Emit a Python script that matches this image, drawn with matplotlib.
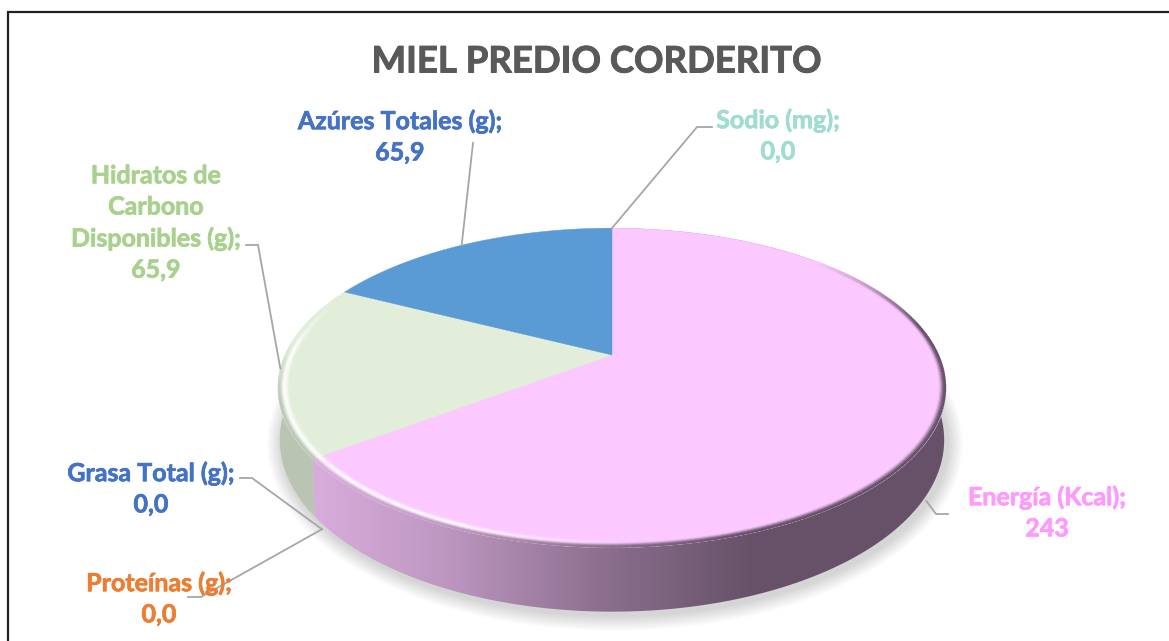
import matplotlib
matplotlib.use('Agg')
import matplotlib.pyplot as plt
import matplotlib.patheffects as pe
import numpy as np
from matplotlib.collections import LineCollection
from matplotlib.patches import Polygon, Ellipse
from matplotlib.colors import to_rgb

# datos de la etiqueta (sentido horario desde las 12)
categorias = ["Energía (Kcal)", "Proteínas (g)", "Grasa Total (g)",
              "Hidratos de\nCarbono\nDisponibles (g)", "Azúres Totales (g)", "Sodio (mg)"]
valores = [243, 0.0, 0.0, 65.9, 65.9, 0.0]
textos_valor = ["243", "0,0", "0,0", "65,9", "65,9", "0,0"]

col_sector = ["#fbc8ff", "#ed7d31", "#4472c4", "#e2eed9", "#5b9bd5", "#a5dbd3"]
col_texto = ["#ff99ff", "#ed7d31", "#4472c4", "#a9d18e", "#4472c4", "#a0dcd0"]

# posicion de cada etiqueta y codo de la linea guia (en pixeles)
pos_texto = [(1047, 513), (159, 599), (151, 489), (156, 223), (400, 137), (778, 136)]
codos = [[(936, 514), (948, 514)], [(201, 597), (188, 597)], [(252, 478), (240, 478)],
         [(258, 245), (246, 245)], [(473, 143)], [(697, 127), (712, 127)]]
nivel_guia = [1.1, 1.1, 1.1, 0, 0, 0]
ajuste_guia = [3, -2.4, -2.4, 0, -1, 0]

plt.rcParams['font.family'] = ['Lato', 'DejaVu Sans']

fig = plt.figure(figsize=(11.69, 6.41), dpi=100)
ax = fig.add_axes([0, 0, 1, 1])
ax.set_xlim(0, 1169)
ax.set_ylim(641, 0)
ax.axis('off')

# geometria de la torta en perspectiva
CX, APEX_Y = 612, 355
A, B, K = 327, 153, 0.206
TOP_CY, TOP_RX, TOP_RY = 388, 335, 160
BOT_CY, BOT_RX, BOT_RY = 440, 333, 172


def pie_point(theta, nivel=0.0, r=1.0):
    """theta en grados, horario desde arriba. nivel 0 = cara superior, 1 = base."""
    t = np.radians(theta)
    x, y = r * np.sin(t), r * np.cos(t)
    w = 1 + K * y
    px = CX + A * x / w
    py = APEX_Y - B * y / w
    bx = CX + (px - CX) * BOT_RX / TOP_RX
    by = BOT_CY + (py - TOP_CY) * BOT_RY / TOP_RY
    return px + (bx - px) * nivel, py + (by - py) * nivel


def wall_color(x, base):
    # luz desde la izquierda, la pared se oscurece hacia la derecha
    xs = [316, 440, 600, 750, 950]
    f = np.interp(x, xs, [0.86, 0.76, 0.56, 0.41, 0.41])
    return np.array(to_rgb(base)) * f


angulos = np.cumsum([0] + valores) / np.sum(valores) * 360

# sombra difusa bajo la torta
for i in range(14):
    ax.add_patch(Ellipse((CX + 3, BOT_CY + 4), 2 * BOT_RX + 30 - 2.2 * i, 2 * BOT_RY + 30 - 2.2 * i,
                         fc='#000000', ec='none', alpha=0.012, zorder=1))

# paredes laterales con degradado
grad_x = np.linspace(270, 950, 340)
for ini, fin, base in [(angulos[0], angulos[1], col_sector[0]), (angulos[3], angulos[4], '#d8e6cf')]:
    th = np.linspace(ini, fin, 200)
    tx, ty = pie_point(th)
    bx, by = pie_point(th, 1)
    poly = Polygon(np.r_[np.c_[tx, ty], np.c_[bx, by][::-1]], closed=True, fc='none', ec='none',
                   transform=ax.transData)
    ax.add_patch(poly)
    img = np.array([[wall_color(x, base) for x in grad_x]])
    im = ax.imshow(img, extent=(270, 950, 641, 200), aspect='auto', zorder=2, interpolation='bilinear')
    im.set_clip_path(poly)
ax.set_xlim(0, 1169)
ax.set_ylim(641, 0)

# cara superior
for i, v in enumerate(valores):
    if v == 0:
        continue
    th = np.linspace(angulos[i], angulos[i + 1], 240)
    x, y = pie_point(th)
    ax.add_patch(Polygon(np.r_[[[CX, APEX_Y]], np.c_[x, y]], closed=True, fc=col_sector[i],
                         ec=col_sector[i], lw=0.3, zorder=3))

# bisel del borde: brillo a la izquierda, sombra a la derecha
anillos = np.linspace(0.966, 1.0, 12)
for i, v in enumerate(valores):
    if v == 0 or i == 4:
        continue
    base = np.array(to_rgb(col_sector[i]))
    th = np.arange(angulos[i], angulos[i + 1], 1.0)
    segs, cols = [], []
    pared = col_sector[i] if i == 0 else '#d8e6cf'
    for k in range(len(anillos) - 1):
        t_k = k / (len(anillos) - 2)
        s = np.clip((t_k - 0.4) / 0.6, 0, 1)
        s = s * s * (3 - 2 * s)
        bump = np.exp(-((t_k - 0.5) / 0.28) ** 2)
        for a in th:
            cos_a = np.cos(np.radians(a))
            if i == 0:
                peso = np.clip((0.7 - cos_a) / 0.5, 0, 1)
            else:
                peso = np.clip((0.35 - cos_a) / 0.3, 0, 1)
            if peso == 0:
                continue
            x0, y0 = pie_point(a, 0, anillos[k])
            x1, y1 = pie_point(a + 1.0, 0, anillos[k])
            frente = np.clip((0.1 - cos_a) / 0.4, 0, 1) if i != 0 else 1.0
            brillo = np.clip((640 - x0) / 180, 0, 1)
            c = base + (wall_color(x0, pared) - base) * s * frente * peso
            c = c + (np.ones(3) - c) * brillo * bump * peso * 0.9
            segs.append([(x0, y0), (x1, y1)])
            cols.append(np.clip(c, 0, 1))
    ax.add_collection(LineCollection(segs, colors=cols, linewidths=1.3, zorder=4, capstyle='round'))

# lineas guia y etiquetas
for i, cat in enumerate(categorias):
    medio = (angulos[i] + angulos[i + 1]) / 2 + ajuste_guia[i]
    if i == 5:
        medio = 0
    px, py = pie_point(medio, nivel_guia[i])
    pts = [(px, py)] + codos[i]
    ax.plot([p[0] for p in pts], [p[1] for p in pts], color='#a6a6a6', lw=1.3, zorder=5,
            solid_joinstyle='miter')
    ax.text(pos_texto[i][0], pos_texto[i][1], f"{cat};\n{textos_valor[i]}", color=col_texto[i],
            fontsize=18, fontweight='bold', ha='center', va='center', linespacing=1.43, zorder=6,
            path_effects=[pe.withStroke(linewidth=0.5, foreground=col_texto[i])])

ax.text(596, 62, "MIEL PREDIO CORDERITO", color='#595959', fontsize=26.3, fontweight='bold',
        ha='center', va='center', path_effects=[pe.withStroke(linewidth=0.7, foreground='#595959')])

# marco de la imagen (sin lado derecho ni inferior)
ax.plot([8, 8, 1169], [641, 12, 12], color='#222222', lw=1.6, solid_joinstyle='miter', zorder=7)

fig.savefig('out.png', dpi=100)
